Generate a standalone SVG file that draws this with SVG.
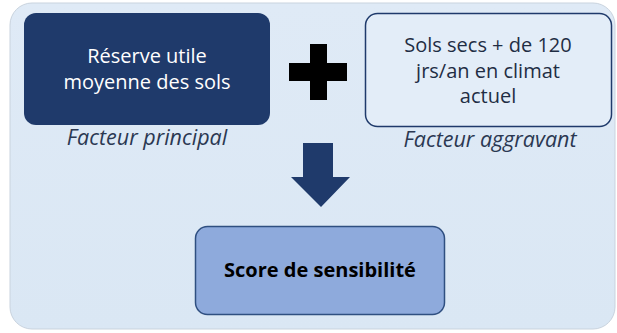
<svg xmlns="http://www.w3.org/2000/svg" width="617" height="333" viewBox="0 0 617 333">
<style>
.t{font-family:"Open Sans","Noto Sans",sans-serif;font-size:20px;text-anchor:middle}
.cap{font-family:"Open Sans","Noto Sans",sans-serif;font-size:21.5px;font-style:italic;fill:#2b3852;text-anchor:middle}
</style>
<defs>
<linearGradient id="bg" x1="0" y1="0" x2="0" y2="1">
<stop offset="0" stop-color="#dfeaf6"/>
<stop offset="1" stop-color="#dae7f4"/>
</linearGradient>
</defs>
<rect width="617" height="333" fill="#ffffff"/>
<rect x="10" y="3" width="605" height="326" rx="22" fill="url(#bg)" stroke="#c9d3de" stroke-width="1"/>
<g id="reserve">
<rect x="24" y="13" width="246" height="112" rx="12" fill="#1f3a6b"/>
<text class="t" x="147" y="63" fill="#ffffff" font-size="20.5">Réserve utile</text>
<text class="t" x="147" y="89" fill="#ffffff" font-size="20.5">moyenne des sols</text>
<text class="cap" x="147" y="145">Facteur principal</text>
</g>
<g id="plus">
<path d="M310 44h17v19h20v18h-20v19h-17v-19h-21v-18h21z" fill="#000000"/>
</g>
<g id="sols">
<rect x="365.5" y="13.5" width="246" height="113" rx="12" fill="#e3edf8" stroke="#1f3a6b" stroke-width="1.5"/>
<text class="t" x="488" y="52" fill="#1f2d44">Sols secs + de 120</text>
<text class="t" x="488" y="78" fill="#1f2d44">jrs/an en climat</text>
<text class="t" x="488" y="103" fill="#1f2d44">actuel</text>
<text class="cap" x="490" y="147">Facteur aggravant</text>
</g>
<g id="connectors">
<path d="M303 143h30v34h17l-29 30l-30-30h12z" fill="#1f3a6b"/>
</g>
<g id="score">
<rect x="195.5" y="226.5" width="249" height="88" rx="12" fill="#8eaadc" stroke="#2f4f80" stroke-width="1.5"/>
<text class="t" x="320" y="277" fill="#000000" font-weight="bold">Score de sensibilité</text>
</g>
</svg>
